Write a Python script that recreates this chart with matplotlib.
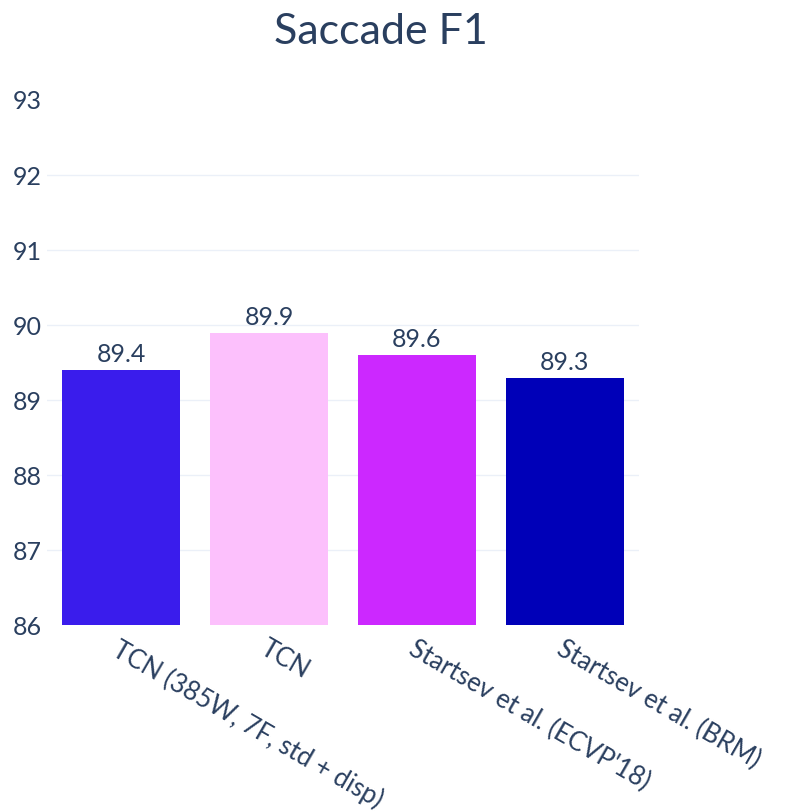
import numpy as np
import matplotlib.pyplot as plt

labels = ["TCN (385W, 7F, std + disp)", "TCN", "Startsev et al. (ECVP'18)", "Startsev et al. (BRM)"]
scores = [89.4, 89.9, 89.6, 89.3]
colors = ["#3a1cec", "#fcc0fc", "#cc28ff", "#0000b8"]
yticks = [86, 87, 88, 89, 90, 91, 92, 93]

plt.rcParams['font.family'] = ['Lato', 'DejaVu Sans']
txt = "#2a3f5f"

fig = plt.figure(figsize=(7.86, 8.11), dpi=100)
ax = fig.add_axes([0.0598, 0.2293, 0.753, 0.6474])

x = np.arange(len(labels))
bars = ax.bar(x, scores, width=0.8, color=colors, zorder=3)
for xi, v in zip(x, scores):
    ax.text(xi, v + 0.05, f"{v}", ha='center', va='bottom', fontsize=18, color=txt)

ax.set_xlim(-0.5, len(labels) - 0.5)
ax.set_ylim(86, 93)
ax.set_yticks(yticks)
ax.set_yticklabels([str(t) for t in yticks], fontsize=18, color=txt)
ax.tick_params(axis='y', length=0, pad=4)
ax.tick_params(axis='x', length=0, pad=8)
ax.set_xticks(x)
ax.set_xticklabels(labels, rotation=-30, ha='left', va='top', rotation_mode='anchor',
                   fontsize=18.5, color=txt)

# horizontal grid, skipping the top edge
for t in yticks[1:-1]:
    ax.axhline(t, color='#ebf0f8', linewidth=1, zorder=0)
for s in ax.spines.values():
    s.set_visible(False)

fig.text(0.485, 0.96, "Saccade F1", ha='center', va='center', fontsize=31, color=txt)

fig.savefig("out.png", dpi=100)
